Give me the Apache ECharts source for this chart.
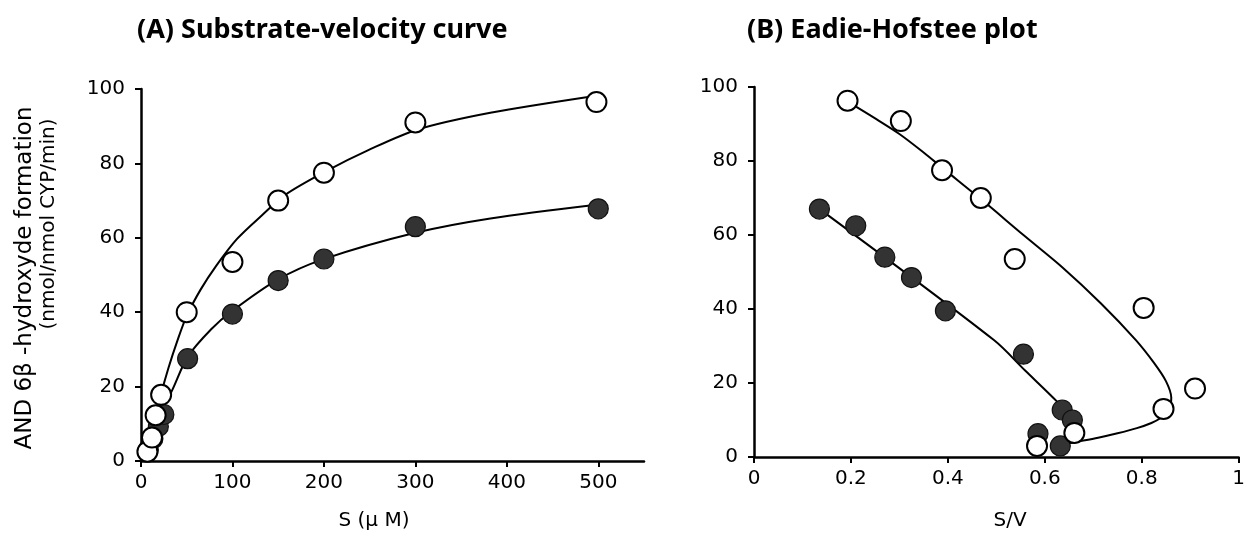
<!DOCTYPE html>
<html>
<head>
<meta charset="utf-8">
<script src="https://cdn.jsdelivr.net/npm/echarts@6/dist/echarts.min.js"></script>
<style>
  html, body { margin: 0; background: #fff; }
  #chart { width: 1248px; height: 537px; }
</style>
</head>
<body>
<div id="chart"></div>
<script>
// (A) substrate-velocity: measured points
var openS = [7, 12, 16, 22, 50, 100, 150, 200, 300, 498]
var openV = [2.5, 6.3, 12.3, 17.8, 40, 53.5, 70, 77.5, 91, 96.5]
var filledS = [8, 13, 19, 25, 51, 100, 150, 200, 300, 500]
var filledV = [3, 6, 9.3, 12.5, 27.5, 39.5, 48.5, 54.3, 63, 67.8]
// (A) fitted curves
var openCurveA = [[0, 0], [7, 3], [12, 7], [16, 11.5], [22, 18], [30, 25], [40, 32.5], [50, 39],
  [65, 46], [82, 52.4], [105, 59.7], [132, 66], [158, 71.6], [203, 78], [248, 83.5], [301, 89],
  [382, 93.6], [498, 98.2]]
var filledCurveA = [[0, 0], [10, 6], [20, 12.5], [34, 19], [51, 28], [77, 35.5], [100, 40.4],
  [149, 48.7], [199, 54.2], [301, 61.4], [382, 65.2], [498, 68.9]]

// (B) Eadie-Hofstee: measured points
var openX = [0.193, 0.303, 0.388, 0.468, 0.538, 0.804, 0.91, 0.845, 0.661, 0.584]
var openY = [96.3, 90.8, 77.5, 70, 53.5, 40.3, 18.5, 13, 6.5, 3]
var filledX = [0.135, 0.21, 0.27, 0.325, 0.395, 0.556, 0.636, 0.657, 0.586, 0.632]
var filledY = [67, 62.5, 54, 48.5, 39.5, 27.8, 12.7, 10, 6.3, 3]
// (B) fitted curves
var openCurveB = [[0.19, 96.3], [0.25, 91.5], [0.30, 87.3], [0.35, 82.3], [0.39, 78], [0.47, 69.5],
  [0.556, 60], [0.636, 51.3], [0.716, 41.5], [0.788, 31.6], [0.825, 25.5], [0.85, 20.5],
  [0.861, 16], [0.856, 12.5], [0.84, 10.6], [0.82, 9.2], [0.79, 7.8], [0.75, 6.4],
  [0.71, 5.2], [0.67, 4.2], [0.645, 3.6]]
var filledCurveB = [[0.125, 68], [0.495, 31.6], [0.56, 23.3], [0.626, 14.9], [0.645, 12]]

var xTicksA = [0, 100, 200, 300, 400, 500]

var FONT = 'DejaVu Sans'

function zip(xs, ys) {
  return xs.map(function (x, i) { return [x, ys[i]] })
}

function axisBase() {
  return {
    type: 'value',
    splitLine: { show: false },
    axisLine: { lineStyle: { color: '#000', width: 2.5 } },
    axisTick: { length: 6, lineStyle: { color: '#000', width: 2 } },
    axisLabel: { color: '#000', fontSize: 20, fontFamily: FONT }
  }
}

function curve(data, xi) {
  return {
    type: 'line', xAxisIndex: xi, yAxisIndex: xi, data: data,
    smooth: 0.3, showSymbol: false, silent: true,
    lineStyle: { color: '#000', width: 2 }, z: 2
  }
}

function dots(data, xi, open) {
  return {
    type: 'scatter', xAxisIndex: xi, yAxisIndex: xi, data: data,
    symbol: 'circle', symbolSize: 20, z: open ? 4 : 3,
    itemStyle: open
      ? { color: '#fff', borderColor: '#000', borderWidth: 2, opacity: 1 }
      : { color: '#333', borderColor: '#111', borderWidth: 1.2, opacity: 1 }
  }
}

var xA = axisBase()
xA.gridIndex = 0
xA.min = 0
xA.max = 550
xA.interval = 100
xA.axisTick.customValues = xTicksA
xA.axisLabel.customValues = xTicksA
xA.axisLabel.margin = 12

var xB = axisBase()
xB.gridIndex = 1
xB.min = 0
xB.max = 1
xB.interval = 0.2
xB.axisLabel.margin = 12

var yA = axisBase()
yA.gridIndex = 0
yA.min = 0
yA.max = 100
yA.interval = 20
yA.axisLabel.margin = 16

var yB = axisBase()
yB.gridIndex = 1
yB.min = 0
yB.max = 100
yB.interval = 20
yB.axisLabel.margin = 16

var chart = echarts.init(document.getElementById('chart'))
chart.setOption({
  animation: false,
  backgroundColor: '#fff',
  title: [
    { text: '(A) Substrate-velocity curve', left: 132, top: 12,
      textStyle: { fontFamily: 'Noto Sans', fontWeight: 'bold', fontSize: 27, color: '#000' } },
    { text: '(B) Eadie-Hofstee plot', left: 742, top: 12,
      textStyle: { fontFamily: 'Noto Sans', fontWeight: 'bold', fontSize: 27, color: '#000' } }
  ],
  grid: [
    { left: 141, top: 89, width: 503, height: 372 },
    { left: 754, top: 87, width: 495, height: 370 }
  ],
  xAxis: [xA, xB],
  yAxis: [yA, yB],
  graphic: [
    { type: 'text', x: 25, y: 278, rotation: Math.PI / 2,
      style: { text: 'AND 6β -hydroxyde formation', fontSize: 23, fontFamily: FONT,
        fill: '#000', align: 'center', verticalAlign: 'middle' } },
    { type: 'text', x: 49, y: 224, rotation: Math.PI / 2,
      style: { text: '(nmol/nmol CYP/min)', fontSize: 20, fontFamily: FONT,
        fill: '#000', align: 'center', verticalAlign: 'middle' } },
    { type: 'text', x: 374, y: 521,
      style: { text: 'S (μ M)', fontSize: 20, fontFamily: FONT,
        fill: '#000', align: 'center', verticalAlign: 'middle' } },
    { type: 'text', x: 1010, y: 521,
      style: { text: 'S/V', fontSize: 20, fontFamily: FONT,
        fill: '#000', align: 'center', verticalAlign: 'middle' } }
  ],
  series: [
    curve(openCurveA, 0),
    curve(filledCurveA, 0),
    curve(openCurveB, 1),
    curve(filledCurveB, 1),
    dots(zip(filledS, filledV), 0, false),
    dots(zip(openS, openV), 0, true),
    dots(zip(filledX, filledY), 1, false),
    dots(zip(openX, openY), 1, true)
  ]
})
</script>
</body>
</html>
